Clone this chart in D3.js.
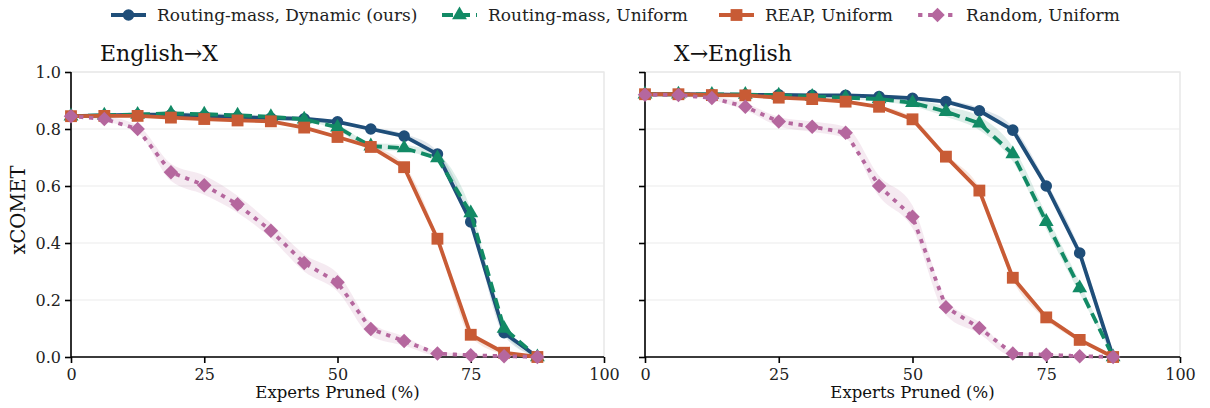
<!DOCTYPE html>
<html>
<head>
<meta charset="utf-8">
<script src="https://cdn.jsdelivr.net/npm/d3@7"></script>
<style>
  html, body { margin: 0; padding: 0; background: #fff; }
  svg { display: block; font-family: "DejaVu Serif", serif; }
</style>
</head>
<body>
<svg id="chart" width="1210" height="408"></svg>
<script>
// Fraction of experts pruned (%)
const pruned = [0, 6.25, 12.5, 18.75, 25, 31.25, 37.5, 43.75, 50, 56.25, 62.5, 68.75, 75, 81.25, 87.5];

const xTicks = [0, 25, 50, 75, 100];
const yTicks = [0.0, 0.2, 0.4, 0.6, 0.8, 1.0];

const seriesNames = ["Routing-mass, Dynamic (ours)", "Routing-mass, Uniform", "REAP, Uniform", "Random, Uniform"];
const panelTitles = ["English\u2192X", "X\u2192English"];

// English→X xCOMET
const enxDynamic = [0.845, 0.848, 0.850, 0.850, 0.846, 0.842, 0.838, 0.836, 0.825, 0.800, 0.775, 0.712, 0.474, 0.085, 0.0];
const enxRoutingUniform = [0.845, 0.848, 0.851, 0.855, 0.852, 0.848, 0.843, 0.834, 0.806, 0.740, 0.733, 0.698, 0.505, 0.100, 0.0];
const enxReap = [0.845, 0.846, 0.846, 0.840, 0.835, 0.830, 0.827, 0.805, 0.772, 0.737, 0.666, 0.415, 0.078, 0.015, 0.0];
const enxRandom = [0.845, 0.835, 0.800, 0.648, 0.603, 0.536, 0.443, 0.330, 0.262, 0.098, 0.056, 0.012, 0.006, 0.003, 0.0];

// X→English xCOMET
const xenDynamic = [0.922, 0.922, 0.921, 0.920, 0.920, 0.918, 0.918, 0.914, 0.908, 0.896, 0.864, 0.796, 0.600, 0.365, 0.0];
const xenRoutingUniform = [0.922, 0.922, 0.921, 0.921, 0.918, 0.914, 0.910, 0.905, 0.892, 0.861, 0.820, 0.712, 0.475, 0.242, 0.0];
const xenReap = [0.922, 0.922, 0.919, 0.918, 0.910, 0.905, 0.896, 0.878, 0.834, 0.703, 0.584, 0.278, 0.139, 0.060, 0.0];
const xenRandom = [0.920, 0.919, 0.909, 0.878, 0.826, 0.808, 0.787, 0.600, 0.492, 0.175, 0.102, 0.012, 0.008, 0.003, 0.0];

// Half-widths of the shaded confidence bands
const enxDynamicSpread = [0, 0, 0, 0, 0, 0, 0, 0.004, 0.005, 0.006, 0.008, 0.010, 0.012, 0.010, 0];
const enxRoutingUniformSpread = [0, 0, 0, 0.004, 0.004, 0.004, 0.005, 0.006, 0.010, 0.012, 0.012, 0.014, 0.016, 0.012, 0];
const enxReapSpread = [0, 0, 0, 0, 0, 0, 0, 0.004, 0.005, 0.006, 0.008, 0.010, 0.008, 0.004, 0];
const enxRandomSpread = [0, 0.008, 0.012, 0.030, 0.034, 0.030, 0.026, 0.030, 0.032, 0.024, 0.016, 0.008, 0.004, 0.002, 0];
const xenDynamicSpread = [0, 0, 0, 0, 0, 0, 0, 0.004, 0.005, 0.006, 0.010, 0.012, 0.014, 0.012, 0];
const xenRoutingUniformSpread = [0, 0, 0, 0, 0.003, 0.004, 0.006, 0.008, 0.012, 0.018, 0.024, 0.026, 0.026, 0.020, 0];
const xenReapSpread = [0, 0, 0, 0, 0, 0, 0.003, 0.004, 0.006, 0.008, 0.010, 0.010, 0.008, 0.004, 0];
const xenRandomSpread = [0, 0.004, 0.008, 0.012, 0.016, 0.018, 0.020, 0.036, 0.040, 0.028, 0.020, 0.008, 0.004, 0.002, 0];

const colors = ["#1f4e79", "#128a65", "#c85b35", "#b5679e"];

const panels = [
  { title: panelTitles[0], values: [enxDynamic, enxRoutingUniform, enxReap, enxRandom],
    spreads: [enxDynamicSpread, enxRoutingUniformSpread, enxReapSpread, enxRandomSpread] },
  { title: panelTitles[1], values: [xenDynamic, xenRoutingUniform, xenReap, xenRandom],
    spreads: [xenDynamicSpread, xenRoutingUniformSpread, xenReapSpread, xenRandomSpread] }
];

const styles = [
  { dash: null, symbol: d3.symbolCircle, size: 105, rotate: 0 },
  { dash: "11,6", symbol: d3.symbolTriangle, size: 95, rotate: 0 },
  { dash: null, symbol: d3.symbolSquare, size: 140, rotate: 0 },
  { dash: "0.5,9.5", symbol: d3.symbolSquare, size: 105, rotate: 45 }
];

const svg = d3.select("#chart");
const panelLayout = [
  { left: 71, right: 604 },
  { left: 645, right: 1180 }
];
const plotTop = 72, plotBottom = 357;
const lineWidth = 3.8;

const y = d3.scaleLinear().domain([0, 1]).range([plotBottom, plotTop]);

panels.forEach((p, pi) => {
  const lay = panelLayout[pi];
  const x = d3.scaleLinear().domain([0, 100]).range([lay.left, lay.right]);
  const g = svg.append("g");

  // frame (light) and grid
  g.append("rect")
    .attr("x", lay.left).attr("y", plotTop)
    .attr("width", lay.right - lay.left).attr("height", plotBottom - plotTop)
    .attr("fill", "none").attr("stroke", "#e2e2e2").attr("stroke-width", 1.2);
  g.selectAll(".grid").data(yTicks).join("line")
    .attr("x1", lay.left).attr("x2", lay.right)
    .attr("y1", d => y(d)).attr("y2", d => y(d))
    .attr("stroke", "#ececec").attr("stroke-width", 1.2);

  // axes
  const xAxis = d3.axisBottom(x).tickValues(xTicks).tickFormat(d3.format("d")).tickSize(6).tickPadding(6);
  const gx = g.append("g").attr("transform", `translate(0,${plotBottom})`).call(xAxis);
  const yAxis = d3.axisLeft(y).tickValues(yTicks).tickSize(6).tickPadding(4)
    .tickFormat(pi === 0 ? d3.format(".1f") : () => "");
  const gy = g.append("g").attr("transform", `translate(${lay.left},0)`).call(yAxis);
  [gx, gy].forEach(a => {
    a.select(".domain").attr("stroke", "#000").attr("stroke-width", 1.6);
    a.selectAll(".tick line").attr("stroke", "#000").attr("stroke-width", 1.6);
    a.selectAll(".tick text").attr("fill", "#222").style("font-size", "16px")
      .style("font-family", "DejaVu Serif, serif");
  });
  gy.select(".domain").attr("d", `M0,${plotBottom}V${plotTop}`);
  gx.select(".domain").attr("d", `M${lay.left},0H${lay.right}`);

  // bands
  p.values.forEach((vals, si) => {
    const sp = p.spreads[si];
    const area = d3.area()
      .x((d, i) => x(pruned[i]))
      .y0((d, i) => y(Math.max(0, d - sp[i])))
      .y1((d, i) => y(d + sp[i]))
      .curve(d3.curveMonotoneX);
    g.append("path").datum(vals).attr("d", area)
      .attr("fill", colors[si]).attr("fill-opacity", 0.14).attr("stroke", "none");
  });

  // lines and markers
  p.values.forEach((vals, si) => {
    const st = styles[si];
    const line = d3.line().x((d, i) => x(pruned[i])).y(d => y(d));
    g.append("path").datum(vals).attr("d", line)
      .attr("fill", "none").attr("stroke", colors[si])
      .attr("stroke-width", lineWidth)
      .attr("stroke-linecap", si === 3 ? "square" : "butt")
      .attr("stroke-linejoin", "round")
      .attr("stroke-dasharray", st.dash);
    const sym = d3.symbol().type(st.symbol).size(st.size);
    g.selectAll(null).data(vals).join("path")
      .attr("d", sym)
      .attr("transform", (d, i) => `translate(${x(pruned[i])},${y(d)}) rotate(${st.rotate})`)
      .attr("fill", colors[si]);
  });

  // title and x label
  g.append("text").attr("x", lay.left + 29).attr("y", 61)
    .style("font-size", "22px").attr("fill", "#111").text(p.title);
  g.append("text").attr("x", (lay.left + lay.right) / 2).attr("y", 398)
    .attr("text-anchor", "middle").style("font-size", "16.5px").attr("fill", "#111")
    .text("Experts Pruned (%)");
});

// y label
svg.append("text")
  .attr("transform", `translate(25,${210}) rotate(-90)`)
  .attr("text-anchor", "middle").style("font-size", "19.5px").attr("fill", "#111")
  .text("xCOMET");

// legend
const legendTextX = [157, 488, 765, 966];
const legend = svg.append("g");
seriesNames.forEach((name, si) => {
  const st = styles[si];
  const lg = legend.append("g").attr("transform", `translate(${legendTextX[si] - 46},15)`);
  lg.append("line").attr("x1", 0).attr("x2", 35).attr("y1", 0).attr("y2", 0)
    .attr("stroke", colors[si]).attr("stroke-width", lineWidth)
    .attr("stroke-linecap", si === 3 ? "square" : "butt")
    .attr("stroke-dasharray", si === 1 ? "11,6" : (si === 3 ? "0.5,9.5" : null));
  lg.append("path").attr("d", d3.symbol().type(st.symbol).size(st.size))
    .attr("transform", `translate(17.5,0) rotate(${st.rotate})`).attr("fill", colors[si]);
  lg.append("text").attr("x", 46).attr("y", 6).style("font-size", "17px").attr("fill", "#222").text(name);
});
</script>
</body>
</html>
